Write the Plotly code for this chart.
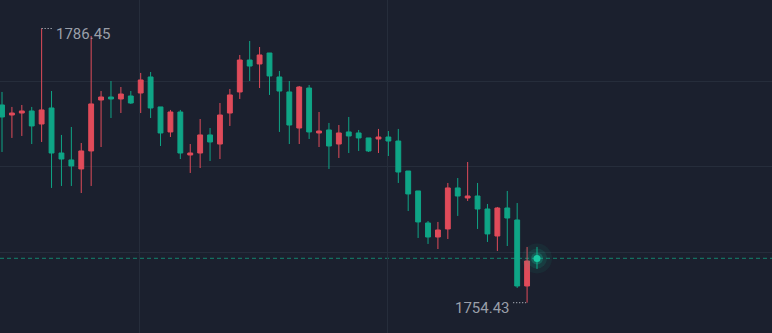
import plotly.graph_objects as go

# ---- data (price values) ----
idx = list(range(55))
open_ = [1777.52, 1776.35, 1776.58, 1776.82, 1775.30, 1777.17, 1771.91, 1771.10, 1770.05, 1772.15,
         1778.10, 1778.45, 1778.22, 1778.57, 1778.92, 1780.79, 1777.29, 1774.37, 1776.70, 1771.68,
         1771.91, 1774.02, 1772.96, 1776.58, 1779.04, 1782.77, 1782.31, 1783.59, 1780.79, 1779.04,
         1774.83, 1779.50, 1774.25, 1774.60, 1772.96, 1774.37, 1774.25, 1773.67, 1773.55, 1773.78,
         1773.31, 1769.81, 1767.48, 1763.74, 1762.10, 1763.04, 1767.83, 1766.66, 1766.89, 1765.37,
         1762.22, 1765.49, 1764.09, 1756.38, 1759.62]
high = [1779.04, 1777.29, 1777.52, 1777.29, 1786.45, 1779.15, 1774.02, 1774.95, 1773.08, 1785.58,
        1779.15, 1780.32, 1779.62, 1779.15, 1781.26, 1781.37, 1777.29, 1776.94, 1776.94, 1772.96,
        1775.88, 1774.83, 1777.75, 1779.39, 1783.36, 1784.99, 1784.29, 1783.59, 1781.49, 1780.32,
        1779.74, 1779.85, 1776.70, 1775.42, 1775.18, 1776.12, 1774.60, 1773.67, 1774.72, 1774.48,
        1774.72, 1769.81, 1767.48, 1763.97, 1763.86, 1768.41, 1768.99, 1770.86, 1768.41, 1765.96,
        1765.61, 1767.48, 1766.07, 1760.94, 1760.94]
low = [1772.03, 1773.67, 1773.90, 1772.96, 1773.20, 1767.83, 1768.06, 1768.06, 1767.24, 1768.06,
       1772.61, 1776.00, 1776.58, 1777.64, 1776.58, 1776.00, 1772.73, 1773.78, 1771.21, 1769.58,
       1770.16, 1770.98, 1771.21, 1775.07, 1778.22, 1780.32, 1779.50, 1778.69, 1774.37, 1772.96,
       1772.96, 1773.55, 1772.61, 1770.05, 1771.33, 1771.91, 1772.15, 1772.03, 1771.91, 1771.56,
       1768.41, 1765.14, 1761.99, 1761.29, 1760.70, 1761.87, 1764.56, 1766.31, 1763.04, 1761.52,
       1760.47, 1761.05, 1756.15, 1754.43, 1758.37]
close = [1776.12, 1776.58, 1776.82, 1775.07, 1776.94, 1771.91, 1771.21, 1770.40, 1772.15, 1777.64,
         1778.45, 1778.22, 1778.80, 1777.75, 1780.44, 1777.17, 1774.25, 1776.70, 1771.91, 1771.91,
         1774.02, 1773.20, 1776.35, 1778.69, 1782.77, 1782.07, 1783.36, 1780.91, 1779.15, 1775.18,
         1779.62, 1774.37, 1774.48, 1772.73, 1774.25, 1773.90, 1773.67, 1772.15, 1773.78, 1773.31,
         1769.69, 1767.13, 1763.86, 1762.10, 1762.92, 1767.83, 1766.89, 1766.89, 1765.37, 1762.46,
         1765.49, 1764.32, 1756.38, 1759.30, 1759.57]
current_price = 1759.60
grid_prices = [1760.3, 1770.3, 1780.3]
grid_times = [13.86, 38.86]

UP = "#e04b5a"      # rising candles (red)
DOWN = "#0fa586"    # falling candles (teal)
BG = "#1b202e"
GRID = "#262d3b"
TXT = "#9a9fa9"

fig = go.Figure()
fig.add_trace(go.Candlestick(
    x=idx, open=open_, high=high, low=low, close=close,
    increasing=dict(line=dict(color=UP, width=1), fillcolor=UP),
    decreasing=dict(line=dict(color=DOWN, width=1), fillcolor=DOWN),
    whiskerwidth=0, hoverinfo="skip", showlegend=False,
))

# glowing current-price dot
last_i = idx[-1]
for size, col in [(30, "rgba(20,200,160,0.07)"), (20, "rgba(20,200,160,0.12)"),
                  (12, "rgba(20,200,160,0.25)"), (7, "#19c9a3")]:
    fig.add_trace(go.Scatter(x=[last_i], y=[current_price], mode="markers",
                             marker=dict(size=size, color=col, line=dict(width=0)),
                             hoverinfo="skip", showlegend=False))

# current price dashed line
fig.add_shape(type="line", xref="paper", x0=0, x1=1, yref="y", y0=current_price, y1=current_price,
              line=dict(color="#146f60", width=1.2, dash="4px,3px"), layer="below")

# high / low markers
hi_i = max(idx, key=lambda i: high[i])
lo_i = min(idx, key=lambda i: low[i])
hi_v = high[hi_i]
lo_v = low[lo_i]
fig.add_shape(type="line", xref="x", x0=hi_i, x1=hi_i + 1.15, y0=hi_v, y1=hi_v,
              line=dict(color="#d0d4dc", width=1, dash="1px,2px"))
fig.add_shape(type="line", xref="x", x0=lo_i - 1.4, x1=lo_i - 0.1, y0=lo_v, y1=lo_v,
              line=dict(color="#d0d4dc", width=1, dash="1px,2px"))
fig.add_annotation(x=hi_i, y=hi_v, text=f"{hi_v:.2f}", showarrow=False,
                   xanchor="left", yanchor="top", xshift=12, yshift=6,
                   font=dict(family="Roboto", size=15, color=TXT))
fig.add_annotation(x=lo_i, y=lo_v, text=f"{lo_v:.2f}", showarrow=False,
                   xanchor="right", yanchor="top", xshift=-15, yshift=6,
                   font=dict(family="Roboto", size=15, color=TXT))

fig.update_layout(
    width=772, height=333,
    margin=dict(l=0, r=0, t=0, b=0),
    paper_bgcolor=BG, plot_bgcolor=BG,
    xaxis=dict(range=[-0.202, 77.72], rangeslider=dict(visible=False), showticklabels=False,
               tickvals=grid_times, showgrid=True, gridcolor=GRID, gridwidth=1,
               zeroline=False, showline=False, ticks=""),
    yaxis=dict(range=[1750.89, 1789.78], showticklabels=False, tickvals=grid_prices,
               showgrid=True, gridcolor=GRID, gridwidth=1, zeroline=False, showline=False, ticks=""),
    hovermode=False,
)

fig.write_html("out.html")
